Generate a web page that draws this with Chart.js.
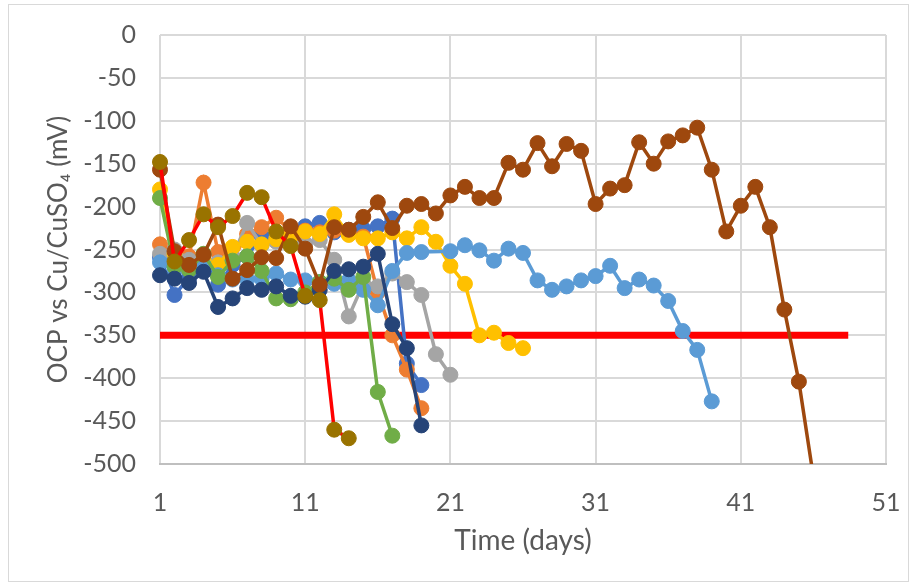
<!DOCTYPE html>
<html>
<head>
<meta charset="utf-8">
<script src="https://cdn.jsdelivr.net/npm/chart.js@4/dist/chart.umd.min.js"></script>
<style>
html,body{margin:0;padding:0;background:#fff;}
canvas{display:block;}
</style>
</head>
<body>
<canvas id="c" width="917" height="586"></canvas>
<script>
// ---- data ----
const days = [1,2,3,4,5,6,7,8,9,10,11,12,13,14,15,16,17,18,19,20,21,22,23,24,25,26,27,28,29,30,31,32,33,34,35,36,37,38,39,40,41,42,43,44,45,46];
const xTicks = [1,11,21,31,41,51];
const yTicks = [0,-50,-100,-150,-200,-250,-300,-350,-400,-450,-500];

const blue      = [-259,-303,-283,-270,-291,-268,-258,-234,-240,-231,-223,-219,-230,-227,-226,-223,-214,-383,-408];
const orange    = [-244,-252,-258,-172,-253,-262,-232,-224,-213,-228,-228,-230,-228,-232,-235,-300,-350,-390,-435];
const gray      = [-255,-250,-262,-258,-265,-258,-219,-245,-241,-238,-243,-239,-262,-328,-290,-293,-278,-288,-303,-372,-396];
const gold      = [-180,-255,-270,-262,-268,-247,-241,-244,-238,-235,-229,-232,-209,-233,-237,-237,-230,-237,-224,-241,-269,-290,-350,-347,-359,-365];
const lightBlue = [-265,-275,-272,-268,-280,-285,-285,-284,-278,-285,-286,-288,-290,-286,-297,-315,-275,-254,-253,null,-252,-245,-251,-263,-249,-254,-286,-297,-293,-286,-281,-269,-295,-285,-292,-310,-345,-367,-427];
const green     = [-190,-270,-274,-255,-282,-263,-258,-275,-307,-308,-300,-288,-284,-297,-282,-416,-467];
const darkBlue  = [-280,-284,-289,-276,-317,-307,-295,-297,-293,-304,-305,-297,-275,-273,-270,-255,-337,-365,-455];
const brown     = [-157,-252,-268,-256,-221,-284,-274,-259,-260,-223,-249,-291,-224,-227,-212,-195,-225,-199,-197,-208,-187,-177,-190,-190,-149,-157,-126,-153,-127,-135,-197,-179,-175,-125,-150,-124,-117,-108,-157,-229,-199,-177,-224,-320,-404,-515];
const olive     = [-148,-264,-239,-209,-224,-211,-184,-189,-229,-246,-304,-309,-460,-470];
const thresholdX = [1, 48.4];
const thresholdY = [-350, -350];

function pts(vals){ return vals.map((v,i)=>({x:days[i], y:v})); }

function series(vals, color, lineColor){
  return {
    data: pts(vals),
    borderColor: lineColor || color,
    backgroundColor: color,
    pointBackgroundColor: color,
    pointBorderColor: color,
    borderWidth: 3.5,
    pointRadius: 7.5,
    pointHoverRadius: 7.5,
    pointBorderWidth: 1,
    tension: 0,
    spanGaps: true,
    clip: {left: 12, top: 12, right: 12, bottom: 0}
  };
}

const datasets = [
  series(olive, '#997300', '#FF0000'),
  series(brown, '#9E480E'),
  series(darkBlue, '#264478'),
  series(green, '#70AD47'),
  series(lightBlue, '#5B9BD5'),
  series(gold, '#FFC000'),
  series(gray, '#A5A5A5'),
  series(orange, '#ED7D31'),
  series(blue, '#4472C4'),
  {
    data: thresholdX.map((x,i)=>({x:x, y:thresholdY[i]})),
    borderColor: '#FF0000',
    borderWidth: 7,
    pointRadius: 0,
    borderCapStyle: 'butt',
    clip: false
  }
];

const framePlugin = {
  id: 'frame',
  beforeDraw(chart){
    const ctx = chart.ctx;
    ctx.save();
    ctx.fillStyle = '#fff';
    ctx.fillRect(0,0,chart.width,chart.height);
    ctx.strokeStyle = '#d9d9d9';
    ctx.lineWidth = 1;
    ctx.strokeRect(8.5, 4.5, chart.width - 17, chart.height - 9);
    ctx.restore();
  }
};

const FONT = 'Lato, "Liberation Sans", sans-serif';

new Chart(document.getElementById('c'), {
  type: 'line',
  data: { datasets },
  plugins: [framePlugin],
  options: {
    responsive: false,
    animation: false,
    layout: { padding: { top: 35, right: 31, bottom: 0, left: 0 } },
    plugins: { legend: { display: false }, tooltip: { enabled: false } },
    scales: {
      x: {
        type: 'linear',
        min: 1, max: 51,
        afterBuildTicks(scale){ scale.ticks = xTicks.map(v=>({value:v})); },
        afterFit(scale){ scale.height = 122; scale.paddingLeft = 0; scale.paddingRight = 0; },
        grid: { color: '#d9d9d9', lineWidth: 2, drawTicks: false },
        border: { color: '#bfbfbf', width: 2 },
        ticks: { color: '#595959', font: { family: FONT, size: 25 }, padding: 24, maxRotation: 0 },
        title: { display: true, text: 'Time (days)', color: '#595959', font: { family: FONT, size: 28 }, padding: { top: 0, bottom: 28 } }
      },
      y: {
        type: 'linear',
        min: -500, max: 0,
        afterBuildTicks(scale){ scale.ticks = yTicks.slice().reverse().map(v=>({value:v})); },
        afterFit(scale){ scale.width = 160; scale.paddingTop = 0; scale.paddingBottom = 0; },
        grid: { color: '#d9d9d9', lineWidth: 2, drawTicks: false },
        border: { display: false },
        ticks: { color: '#595959', font: { family: FONT, size: 25 }, padding: 24 },
        title: { display: true, text: 'OCP vs Cu/CuSO\u2084 (mV)', color: '#595959', font: { family: FONT, size: 26 }, padding: { top: 43, bottom: 0 } }
      }
    }
  }
});
</script>
</body>
</html>
